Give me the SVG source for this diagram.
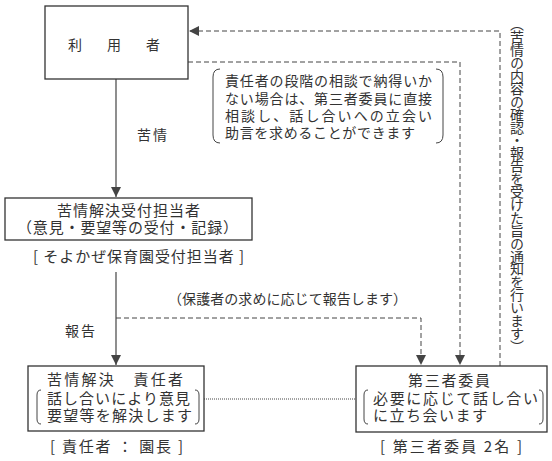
<svg xmlns="http://www.w3.org/2000/svg" width="552" height="461" viewBox="0 0 552 461">
<style>
text{font-family:"Noto Sans CJK JP","Noto Sans",sans-serif;fill:#333;font-size:14px}
.box{fill:#fff;stroke:#333;stroke-width:1.3}
.ln{fill:none;stroke:#444;stroke-width:1.2}
.dash{fill:none;stroke:#444;stroke-width:1;stroke-dasharray:5,3}
.dot{fill:none;stroke:#444;stroke-width:1;stroke-dasharray:1,1}
.br{fill:none;stroke:#444;stroke-width:1}
.m{font-size:15px}
</style>
<defs>
<marker id="ah" markerUnits="userSpaceOnUse" markerWidth="12" markerHeight="12" viewBox="0 0 12 12" refX="11" refY="6" orient="auto">
<path d="M1,1 L11,6 L1,11 Z" fill="#444"/>
</marker>
</defs>
<rect width="552" height="461" fill="#fff"/>
<g id="connectors">
<line class="ln" x1="116" y1="79" x2="116" y2="197" marker-end="url(#ah)"/>
<line class="ln" x1="116" y1="272" x2="116" y2="365" marker-end="url(#ah)"/>
<polyline class="dash" points="500,366 500,31 189,31" marker-end="url(#ah)"/>
<polyline class="dash" points="188,62 460,62 460,365" marker-end="url(#ah)"/>
<polyline class="dash" points="116,318 421,318 421,365" marker-end="url(#ah)"/>
<line class="dot" x1="204" y1="399" x2="356" y2="399"/>
<text x="137" y="140" textLength="30">苦情</text>
<text x="65" y="336" textLength="30">報告</text>
<text x="168" y="304" textLength="239">（保護者の求めに応じて報告します）</text>
<text x="517" y="17 29.9 42.8 55.7 68.6 81.5 94.4 107.3 120.2 133.1 146 158.9 171.8 184.7 197.6 210.5 223.4 236.3 249.2 262.1 275 287.9 300.8 313.7 326.6 339.5" style="writing-mode:vertical-rl" font-size="12">（苦情の内容の確認・報告を受けた旨の通知を行います）</text>
</g>
<g id="riyousha">
<rect class="box" x="45" y="6" width="143" height="73"/>
<text x="68" y="50" font-size="17" textLength="92">利　用　者</text>
</g>
<g id="note">
<path class="br" d="M220,69 Q213,69 213,77 L213,135 Q213,143 220,143"/>
<path class="br" d="M436,69 Q443,69 443,77 L443,135 Q443,143 436,143"/>
<text x="225" y="86" textLength="207">責任者の段階の相談で納得いか</text>
<text x="225" y="104" textLength="207">ない場合は、第三者委員に直接</text>
<text x="225" y="121" textLength="207">相談し、話し合いへの立会い</text>
<text x="225" y="138" textLength="190">助言を求めることができます</text>
</g>
<g id="uketsuke">
<rect class="box" x="5" y="198" width="247" height="42"/>
<text class="m" x="57" y="216" textLength="143">苦情解決受付担当者</text>
<text class="m" x="17" y="233" textLength="221">（意見・要望等の受付・記録）</text>
<text class="m" x="33" y="262" textLength="211">[ そよかぜ保育園受付担当者 ]</text>
</g>
<g id="sekininsha">
<rect class="box" x="28" y="366" width="176" height="65"/>
<text class="m" x="47" y="385" textLength="136">苦情解決　責任者</text>
<path class="br" d="M41,390 Q37,390 37,395 L37,419 Q37,424 41,424"/>
<path class="br" d="M195,390 Q199,390 199,395 L199,419 Q199,424 195,424"/>
<text class="m" x="47" y="404" textLength="143">話し合いにより意見</text>
<text class="m" x="47" y="421" textLength="145">要望等を解決します</text>
<text class="m" x="50" y="452" textLength="133">[ 責任者 ： 園長 ]</text>
</g>
<g id="daisansha">
<rect class="box" x="356" y="366" width="191" height="66"/>
<text class="m" x="408" y="386" textLength="82">第三者委員</text>
<path class="br" d="M368,390 Q364,390 364,395 L364,419 Q364,424 368,424"/>
<path class="br" d="M539,390 Q543,390 543,395 L543,419 Q543,424 539,424"/>
<text class="m" x="373" y="404" textLength="165">必要に応じて話し合い</text>
<text class="m" x="373" y="421" textLength="114">に立ち会います</text>
<text class="m" x="380" y="452" textLength="142">[ 第三者委員 2名 ]</text>
</g>
</svg>
